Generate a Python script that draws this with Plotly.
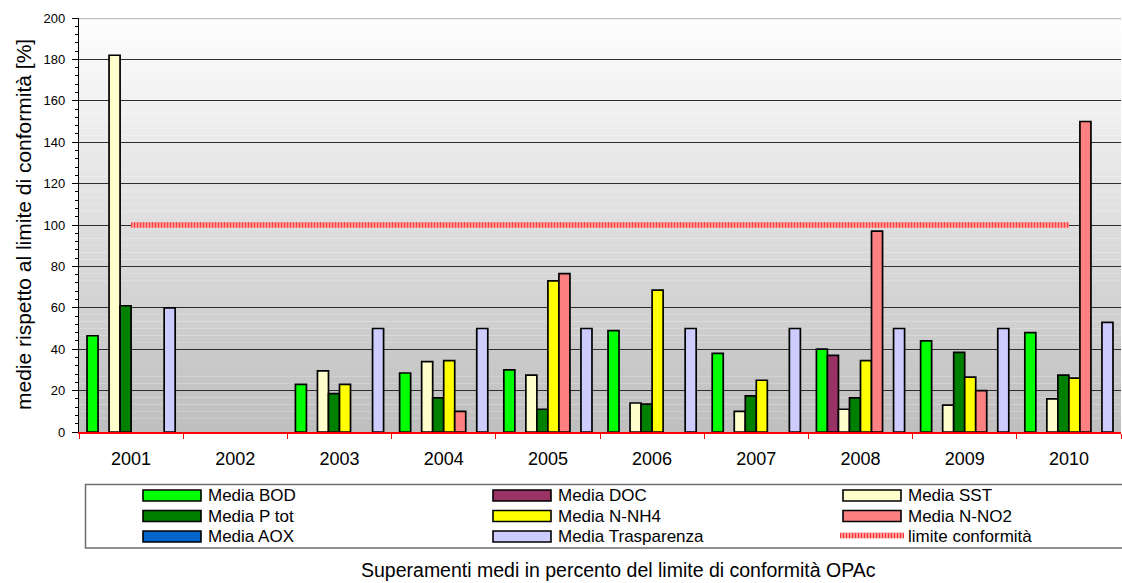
import plotly.graph_objects as go

# --- data -------------------------------------------------------------
years = ["2001", "2002", "2003", "2004", "2005", "2006", "2007", "2008", "2009", "2010"]

media_bod = [46.5, None, 23, 28.5, 30, 49, 38, 40, 44, 48]
media_doc = [None, None, None, None, None, None, None, 37, None, None]
media_sst = [182, None, 29.5, 34, 27.5, 14, 10, 11, 13, 16]
media_ptot = [61, None, 18.5, 16.5, 11, 13.5, 17.5, 16.5, 38.5, 27.5]
media_nnh4 = [None, None, 23, 34.5, 73, 68.5, 25, 34.5, 26.5, 26]
media_nno2 = [None, None, None, 10, 76.5, None, None, 97, 20, 150]
media_aox = [None] * 10
media_trasp = [60, None, 50, 50, 50, 50, 50, 50, 50, 53]
limite = [100] * 10

y_ticks = [0, 20, 40, 60, 80, 100, 120, 140, 160, 180, 200]

series = [
    ("Media BOD", media_bod, "#00ff00"),
    ("Media DOC", media_doc, "#993366"),
    ("Media SST", media_sst, "#ffffcc"),
    ("Media P tot", media_ptot, "#008000"),
    ("Media N-NH4", media_nnh4, "#ffff00"),
    ("Media N-NO2", media_nno2, "#ff8080"),
    ("Media AOX", media_aox, "#0066cc"),
    ("Media Trasparenza", media_trasp, "#ccccff"),
]
limit_name = "limite conformità"

FONT = "Liberation Sans, Arial, sans-serif"
W, H = 1122, 583
ML, MR, MT, MB = 79, 1, 18, 151
PW, PH = W - ML - MR, H - MT - MB


def px(x):
    return (x - ML) / PW


def py(y):
    return (H - MB - y) / PH


fig = go.Figure()

for name, vals, col in series:
    fig.add_trace(go.Bar(
        x=years, y=vals, name=name,
        marker=dict(color=col, line=dict(color="#000000", width=1.7)),
        showlegend=False,
    ))

# limit line: pink base with a fine red dotted texture on top
fig.add_trace(go.Scatter(
    x=years, y=limite, mode="lines", name=limit_name,
    line=dict(color="#ff9a9a", width=6), showlegend=False,
))
fig.add_trace(go.Scatter(
    x=years, y=limite, mode="lines", name=limit_name,
    line=dict(color="#ff3030", width=5, dash="1px,2px"), showlegend=False,
))

shapes = []
# vertical gradient of the plot area (white at top, grey at the bottom)
n_bands = 60
top_c, bot_c = 254, 190
for i in range(n_bands):
    y0 = 200 * i / n_bands
    y1 = 200 * (i + 1) / n_bands
    t = (i + 0.5) / n_bands
    g = round(bot_c + (top_c - bot_c) * t)
    shapes.append(dict(
        type="rect", xref="x domain", yref="y", x0=0, x1=1, y0=y0, y1=y1,
        fillcolor=f"rgb({g},{g},{g})", line=dict(width=0), layer="below",
    ))
# light border along the top of the plot area
shapes.append(dict(type="line", xref="x domain", yref="y", x0=0, x1=1, y0=200, y1=200,
                   line=dict(color="#c4c4c4", width=2.5), layer="above"))

# legend box
shapes.append(dict(type="rect", xref="paper", yref="paper",
                   x0=px(85.5), x1=px(1126), y0=py(548), y1=py(484.5),
                   line=dict(color="#6e6e6e", width=1.5), fillcolor="white"))

annotations = []
col_sym = [143, 493, 843]
row_y = [495.5, 516, 536.5]
entries = [(n, c) for n, _, c in series] + [(limit_name, None)]
for k, (name, col) in enumerate(entries):
    r, c = divmod(k, 3)
    x0 = col_sym[c]
    yc = row_y[r]
    if col is not None:
        shapes.append(dict(type="rect", xref="paper", yref="paper",
                           x0=px(x0), x1=px(x0 + 58), y0=py(yc + 5.5), y1=py(yc - 5.5),
                           fillcolor=col, line=dict(color="#000000", width=1.6)))
    else:
        shapes.append(dict(type="line", xref="paper", yref="paper",
                           x0=px(x0 - 3), x1=px(x0 + 61), y0=py(yc - 1), y1=py(yc - 1),
                           line=dict(color="#ff9a9a", width=6)))
        shapes.append(dict(type="line", xref="paper", yref="paper",
                           x0=px(x0 - 3), x1=px(x0 + 61), y0=py(yc - 1), y1=py(yc - 1),
                           line=dict(color="#ff3030", width=5, dash="1px,2px")))
    annotations.append(dict(
        xref="paper", yref="paper", x=px(x0 + 63), y=py(yc),
        xanchor="left", yanchor="middle", text=name, showarrow=False,
        font=dict(family=FONT, size=17, color="#000000"),
    ))

# y axis title
annotations.append(dict(
    xref="paper", yref="paper", x=px(23), y=0.5, xanchor="center", yanchor="middle",
    text="medie rispetto al limite di conformità [%]", textangle=-90, showarrow=False,
    font=dict(family=FONT, size=21, color="#000000"),
))
# caption
annotations.append(dict(
    xref="paper", yref="paper", x=px(618), y=py(570), xanchor="center", yanchor="middle",
    text="Superamenti medi in percento del limite di conformità OPAc", showarrow=False,
    font=dict(family=FONT, size=19.5, color="#000000"),
))

fig.update_layout(
    width=W, height=H,
    margin=dict(l=ML, r=MR, t=MT, b=MB, pad=0),
    paper_bgcolor="white", plot_bgcolor="white",
    barmode="group", bargap=0.154, bargroupgap=0,
    font=dict(family=FONT, color="#000000"),
    shapes=shapes, annotations=annotations,
    showlegend=False,
)
fig.update_xaxes(
    type="category", categoryorder="array", categoryarray=years,
    range=[-0.5, len(years) - 0.5],
    showline=True, linecolor="#ff0000", linewidth=1.5,
    ticks="outside", tickson="boundaries", ticklen=5, tickcolor="#ff0000", tickwidth=1,
    showgrid=False, zeroline=False,
    tickfont=dict(family=FONT, size=18, color="#000000"),
    ticklabelstandoff=10,
)
fig.update_yaxes(
    range=[0, 200], tickvals=y_ticks,
    showline=True, linecolor="#000000", linewidth=1.2,
    ticks="outside", ticklen=6, tickcolor="#000000", tickwidth=1,
    minor=dict(dtick=4, ticks="outside", ticklen=3, tickcolor="#000000", showgrid=False),
    showgrid=True, gridcolor="#2e2e2e", gridwidth=1,
    zeroline=False,
    tickfont=dict(family=FONT, size=13, color="#000000"),
    ticklabelstandoff=4,
)

fig.write_html("out.html")
